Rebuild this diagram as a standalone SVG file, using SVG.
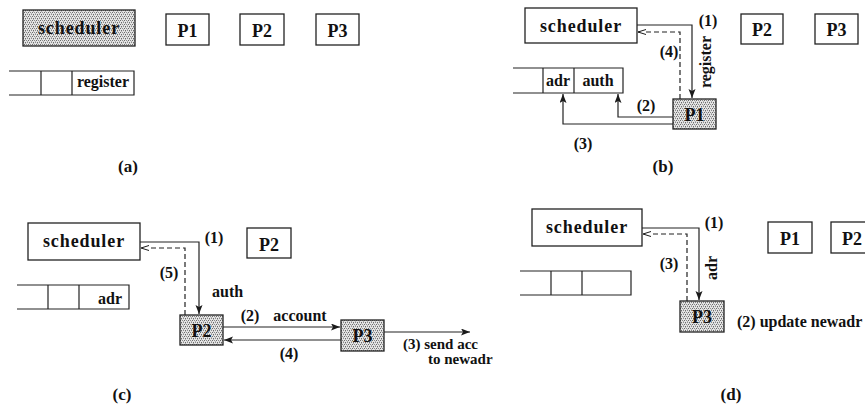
<svg xmlns="http://www.w3.org/2000/svg" width="865" height="408" viewBox="0 0 865 408">
  <defs>
    <!-- fine dot stipple for active boxes -->
    <pattern id="stipple" width="4" height="4" patternUnits="userSpaceOnUse">
      <rect width="4" height="4" fill="#e4e4e4"/>
      <rect x="0" y="0" width="1" height="1" fill="#6a6a6a"/>
      <rect x="2" y="0" width="1" height="1" fill="#8a8a8a"/>
      <rect x="1" y="2" width="1" height="1" fill="#6a6a6a"/>
      <rect x="3" y="2" width="1" height="1" fill="#8a8a8a"/>
      <rect x="3" y="1" width="1" height="1" fill="#b0b0b0"/>
      <rect x="1" y="3" width="1" height="1" fill="#b0b0b0"/>
    </pattern>
    <marker id="arrow" markerUnits="userSpaceOnUse" markerWidth="10" markerHeight="8" refX="9" refY="3.5" orient="auto">
      <path d="M0,0 L9,3.5 L0,7 L2,3.5 z" fill="#1a1a1a"/>
    </marker>
    <marker id="open" markerUnits="userSpaceOnUse" markerWidth="10" markerHeight="8" refX="8.5" refY="3" orient="auto">
      <path d="M0.5,0.5 L8.5,3 L0.5,5.5" fill="#fff" stroke="#1a1a1a" stroke-width="1"/>
    </marker>
  </defs>
  <style>
    .box { fill: #fff; stroke: #222; stroke-width: 1.3; }
    .shade { fill: url(#stipple); stroke: #222; stroke-width: 1.3; }
    .q { fill: none; stroke: #222; stroke-width: 1.2; }
    .t { font-family: "Liberation Serif", "Times New Roman", serif; font-weight: bold; fill: #111; }
    .big { font-size: 18px; text-anchor: middle; }
    .sched { font-size: 18px; letter-spacing: 0.9px; text-anchor: middle; }
    .lbl { font-size: 16px; }
    .sm { font-size: 15px; }
    .mid { text-anchor: middle; }
    .cap { font-size: 17px; text-anchor: middle; }
    .wire { fill: none; stroke: #222; stroke-width: 1.2; }
    .solid { marker-end: url(#arrow); }
    .dash { stroke-dasharray: 5 3; marker-end: url(#open); }
  </style>
  <rect width="865" height="408" fill="#fff"/>

  <!-- ===== (a) ===== -->
  <g id="a-scheduler">
    <rect class="shade" x="23" y="10" width="112" height="36"/>
    <text class="t sched" x="79" y="34">scheduler</text>
  </g>
  <g id="a-p1">
    <rect class="box" x="166" y="14" width="43" height="31"/>
    <text class="t big" x="187.5" y="37">P1</text>
  </g>
  <g id="a-p2">
    <rect class="box" x="240" y="14" width="44" height="31"/>
    <text class="t big" x="262" y="37">P2</text>
  </g>
  <g id="a-p3">
    <rect class="box" x="316" y="14" width="43" height="31"/>
    <text class="t big" x="337.5" y="37">P3</text>
  </g>
  <g id="a-queue">
    <path class="q" d="M9,71 H134 V95 H9 M41,71 V95 M72,71 V95"/>
    <text class="t lbl mid" x="103" y="87">register</text>
  </g>
  <text class="t cap" x="128" y="172">(a)</text>

  <!-- ===== (b) ===== -->
  <g id="b-scheduler">
    <rect class="box" x="525" y="8" width="112" height="35"/>
    <text class="t sched" x="581" y="32">scheduler</text>
  </g>
  <g id="b-p1">
    <rect class="shade" x="673" y="99" width="43" height="30"/>
    <text class="t big" x="694.5" y="121">P1</text>
  </g>
  <g id="b-p2">
    <rect class="box" x="741" y="14" width="42" height="30"/>
    <text class="t big" x="762" y="36">P2</text>
  </g>
  <g id="b-p3">
    <rect class="box" x="815" y="14" width="43" height="30"/>
    <text class="t big" x="836.5" y="36">P3</text>
  </g>
  <g id="b-queue">
    <path class="q" d="M513,68 H623 V93 H513 M543,68 V93 M574,68 V93"/>
    <text class="t lbl mid" x="558" y="86">adr</text>
    <text class="t lbl mid" x="598" y="86">auth</text>
  </g>
  <g id="b-connectors">
    <path class="wire solid" d="M637,25 H692 V98"/>
    <path class="wire dash" d="M680,99 V32 H638"/>
    <path class="wire solid" d="M673,117 H618 V94"/>
    <path class="wire solid" d="M673,124 H563 V94"/>
    <text class="t lbl mid" x="708" y="26">(1)</text>
    <text class="t lbl mid" transform="translate(711,62) rotate(-90)">register</text>
    <text class="t lbl mid" x="669" y="57">(4)</text>
    <text class="t lbl mid" x="646" y="111">(2)</text>
    <text class="t lbl mid" x="583" y="149">(3)</text>
  </g>
  <text class="t cap" x="663" y="172">(b)</text>

  <!-- ===== (c) ===== -->
  <g id="c-scheduler">
    <rect class="box" x="28" y="223" width="112" height="37"/>
    <text class="t sched" x="84" y="247">scheduler</text>
  </g>
  <g id="c-p2-idle">
    <rect class="box" x="247" y="228" width="44" height="30"/>
    <text class="t big" x="269" y="251">P2</text>
  </g>
  <g id="c-queue">
    <path class="q" d="M17,285 H129 V309 H17 M48,285 V309 M79,285 V309"/>
    <text class="t lbl mid" x="110" y="304">adr</text>
  </g>
  <g id="c-p2">
    <rect class="shade" x="180" y="315" width="43" height="30"/>
    <text class="t big" x="201.5" y="337">P2</text>
  </g>
  <g id="c-p3">
    <rect class="shade" x="341" y="320" width="43" height="31"/>
    <text class="t big" x="362.5" y="342">P3</text>
  </g>
  <g id="c-connectors">
    <path class="wire solid" d="M223,327 H340"/>
    <path class="wire solid" d="M341,340 H224"/>
    <path class="wire solid" d="M384,332 H470"/>
    <path class="wire solid" d="M140,242 H199 V314"/>
    <path class="wire dash" d="M185,315 V248 H141"/>
    <text class="t lbl mid" x="214" y="243">(1)</text>
    <text class="t lbl mid" x="169" y="278">(5)</text>
    <text class="t lbl" x="212" y="297">auth</text>
    <text class="t lbl mid" x="250" y="321">(2)</text>
    <text class="t lbl mid" x="300" y="321">account</text>
    <text class="t lbl mid" x="289" y="359">(4)</text>
    <text class="t sm" x="403" y="349">(3) send acc</text>
    <text class="t sm" x="428" y="364">to newadr</text>
  </g>
  <text class="t cap" x="122" y="400">(c)</text>

  <!-- ===== (d) ===== -->
  <g id="d-scheduler">
    <rect class="box" x="532" y="209" width="110" height="37"/>
    <text class="t sched" x="587" y="233">scheduler</text>
  </g>
  <g id="d-p1">
    <rect class="box" x="768" y="222" width="44" height="31"/>
    <text class="t big" x="790" y="245">P1</text>
  </g>
  <g id="d-p2">
    <rect class="box" x="831" y="222" width="44" height="31"/>
    <text class="t big" x="852" y="245">P2</text>
  </g>
  <g id="d-queue">
    <path class="q" d="M520,271 H631 V295 H520 M551,271 V295 M582,271 V295"/>
  </g>
  <g id="d-p3">
    <rect class="shade" x="680" y="301" width="44" height="31"/>
    <text class="t big" x="702" y="323">P3</text>
  </g>
  <g id="d-connectors">
    <path class="wire solid" d="M642,228 H699 V300"/>
    <path class="wire dash" d="M687,301 V234 H643"/>
    <text class="t lbl mid" x="714" y="228">(1)</text>
    <text class="t lbl mid" transform="translate(717,268) rotate(-90)">adr</text>
    <text class="t lbl mid" x="669" y="269">(3)</text>
    <text class="t lbl" x="737" y="327">(2) update newadr</text>
  </g>
  <text class="t cap" x="731" y="400">(d)</text>
</svg>
